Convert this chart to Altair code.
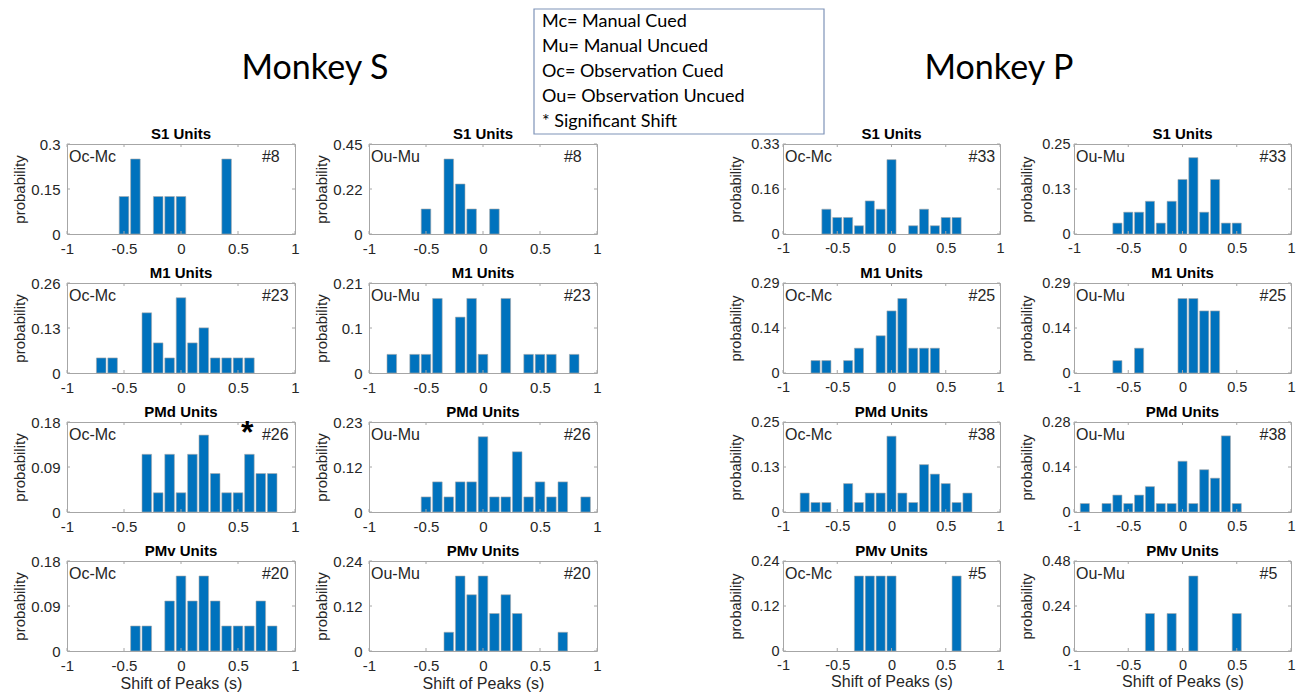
import altair as alt
import pandas as pd

# ---------------- data: peak-shift histograms (bin centre in s, unit count) ----------------
areas = ["S1", "M1", "PMd", "PMv"]
monkeys = ["Monkey S", "Monkey P"]
comparisons = ["Oc-Mc", "Ou-Mu"]
legend_lines = [
    "Mc= Manual Cued",
    "Mu= Manual Uncued",
    "Oc= Observation Cued",
    "Ou= Observation Uncued",
    "* Significant Shift",
]
x_tick_values = [-1, -0.5, 0, 0.5, 1]

# Monkey S
s_s1_oc_shift = [-0.5, -0.4, -0.2, -0.1, 0.0, 0.4]
s_s1_oc_count = [1, 2, 1, 1, 1, 2]
s_s1_ou_shift = [-0.5, -0.3, -0.2, -0.1, 0.1]
s_s1_ou_count = [1, 3, 2, 1, 1]
s_m1_oc_shift = [-0.7, -0.6, -0.3, -0.2, -0.1, 0.0, 0.1, 0.2, 0.3, 0.4, 0.5, 0.6]
s_m1_oc_count = [1, 1, 4, 2, 1, 5, 2, 3, 1, 1, 1, 1]
s_m1_ou_shift = [-0.8, -0.6, -0.5, -0.4, -0.2, -0.1, 0.0, 0.2, 0.4, 0.5, 0.6, 0.8]
s_m1_ou_count = [1, 1, 1, 4, 3, 4, 1, 4, 1, 1, 1, 1]
s_pmd_oc_shift = [-0.3, -0.2, -0.1, 0.0, 0.1, 0.2, 0.3, 0.4, 0.5, 0.6, 0.7, 0.8]
s_pmd_oc_count = [3, 1, 3, 1, 3, 4, 2, 1, 1, 3, 2, 2]
s_pmd_ou_shift = [-0.5, -0.4, -0.3, -0.2, -0.1, 0.0, 0.1, 0.2, 0.3, 0.4, 0.5, 0.6, 0.7, 0.9]
s_pmd_ou_count = [1, 2, 1, 2, 2, 5, 1, 1, 4, 1, 2, 1, 2, 1]
s_pmv_oc_shift = [-0.4, -0.3, -0.1, 0.0, 0.1, 0.2, 0.3, 0.4, 0.5, 0.6, 0.7, 0.8]
s_pmv_oc_count = [1, 1, 2, 3, 2, 3, 2, 1, 1, 1, 2, 1]
s_pmv_ou_shift = [-0.3, -0.2, -0.1, 0.0, 0.1, 0.2, 0.3, 0.7]
s_pmv_ou_count = [1, 4, 3, 4, 2, 3, 2, 1]

# Monkey P
p_s1_oc_shift = [-0.6, -0.5, -0.4, -0.3, -0.2, -0.1, 0.0, 0.2, 0.3, 0.4, 0.5, 0.6]
p_s1_oc_count = [3, 2, 2, 1, 4, 3, 9, 1, 3, 1, 2, 2]
p_s1_ou_shift = [-0.6, -0.5, -0.4, -0.3, -0.2, -0.1, 0.0, 0.1, 0.2, 0.3, 0.4, 0.5]
p_s1_ou_count = [1, 2, 2, 3, 1, 3, 5, 7, 2, 5, 1, 1]
p_m1_oc_shift = [-0.7, -0.6, -0.4, -0.3, -0.1, 0.0, 0.1, 0.2, 0.3, 0.4]
p_m1_oc_count = [1, 1, 1, 2, 3, 5, 6, 2, 2, 2]
p_m1_ou_shift = [-0.6, -0.4, 0.0, 0.1, 0.2, 0.3]
p_m1_ou_count = [1, 2, 6, 6, 5, 5]
p_pmd_oc_shift = [-0.8, -0.7, -0.6, -0.4, -0.3, -0.2, -0.1, 0.0, 0.1, 0.2, 0.3, 0.4, 0.5, 0.6, 0.7]
p_pmd_oc_count = [2, 1, 1, 3, 1, 2, 2, 8, 2, 1, 5, 4, 3, 1, 2]
p_pmd_ou_shift = [-0.9, -0.7, -0.6, -0.5, -0.4, -0.3, -0.2, -0.1, 0.0, 0.1, 0.2, 0.3, 0.4, 0.5]
p_pmd_ou_count = [1, 1, 2, 1, 2, 3, 1, 1, 6, 1, 5, 4, 9, 1]
p_pmv_oc_shift = [-0.3, -0.2, -0.1, 0.0, 0.6]
p_pmv_oc_count = [1, 1, 1, 1, 1]
p_pmv_ou_shift = [-0.3, -0.1, 0.1, 0.5]
p_pmv_ou_count = [1, 1, 2, 1]

# number of units per area (same for both comparisons)
s_units = [8, 23, 26, 20]
p_units = [33, 25, 38, 5]

# y-axis top value and middle tick label, per area, [Oc-Mc, Ou-Mu]
s_ymax = [[0.3, 0.45], [0.26, 0.21], [0.18, 0.23], [0.18, 0.24]]
s_ymid = [["0.15", "0.22"], ["0.13", "0.1"], ["0.09", "0.12"], ["0.09", "0.12"]]
p_ymax = [[0.33, 0.25], [0.29, 0.29], [0.25, 0.28], [0.24, 0.48]]
p_ymid = [["0.16", "0.13"], ["0.14", "0.14"], ["0.13", "0.14"], ["0.12", "0.24"]]

# significant shifts: (monkey, area, comparison)
significant = [("Monkey S", "PMd", "Oc-Mc")]

s_hist = [
    [(s_s1_oc_shift, s_s1_oc_count), (s_s1_ou_shift, s_s1_ou_count)],
    [(s_m1_oc_shift, s_m1_oc_count), (s_m1_ou_shift, s_m1_ou_count)],
    [(s_pmd_oc_shift, s_pmd_oc_count), (s_pmd_ou_shift, s_pmd_ou_count)],
    [(s_pmv_oc_shift, s_pmv_oc_count), (s_pmv_ou_shift, s_pmv_ou_count)],
]
p_hist = [
    [(p_s1_oc_shift, p_s1_oc_count), (p_s1_ou_shift, p_s1_ou_count)],
    [(p_m1_oc_shift, p_m1_oc_count), (p_m1_ou_shift, p_m1_ou_count)],
    [(p_pmd_oc_shift, p_pmd_oc_count), (p_pmd_ou_shift, p_pmd_ou_count)],
    [(p_pmv_oc_shift, p_pmv_oc_count), (p_pmv_ou_shift, p_pmv_ou_count)],
]

# ---------------- styling ----------------
BLUE = "#0072BD"
EDGE = "#a9a9a9"
FRAME = "#a6a6a6"
TXT = "#262626"
FONT = "Liberation Sans"
HEAD_FONT = "Lato"
PANEL_H = 90
S_W, P_W, GAP_W = 228, 217, 38
HALF_BAR = 0.042
TICK = 3

X_LABELS = "datum.value == 0 ? '0' : (datum.value < 0 ? '-' : '') + format(abs(datum.value), '~g')"

one = pd.DataFrame({"k": [0]})


def panel(shift, count, n, ymax, ymid, area, comp, width, bottom, star, fs, extra=()):
    data = pd.DataFrame({"shift": shift, "count": count})
    y_labels = (
        f"datum.value == 0 ? '0' : (datum.value > {ymax * 0.75:.4f} ? '{ymax:g}' : '{ymid}')"
    )
    x_scale = alt.Scale(domain=[-1, 1], nice=False, zero=False)
    y_scale = alt.Scale(domain=[0, ymax], nice=False)
    x_title = "Shift of Peaks (s)" if bottom else None
    x_axis = alt.Axis(
        values=x_tick_values,
        labelExpr=X_LABELS,
        labelFontSize=fs,
        labelPadding=7,
        labelFlush=False,
        titleFontSize=16,
        titleFontWeight="normal",
        titlePadding=2,
    )
    y_axis = alt.Axis(
        values=[0, ymax / 2, ymax],
        labelExpr=y_labels,
        labelFontSize=fs,
        labelPadding=7 if fs >= 15 else 4,
        labelFlush=False,
        minExtent=36,
        maxExtent=36,
        titleFontSize=fs,
        titleFontWeight="normal",
        titlePadding=4,
    )
    bars = (
        alt.Chart(data)
        .transform_calculate(
            probability=f"datum.count / {n}",
            base="0",
            left=f"datum.shift - {HALF_BAR}",
            right=f"datum.shift + {HALF_BAR}",
        )
        .mark_rect(color=BLUE, stroke=EDGE, strokeWidth=0.6)
        .encode(
            x=alt.X("left:Q", scale=x_scale, axis=x_axis, title=x_title),
            x2=alt.X2("right"),
            y=alt.Y("probability:Q", scale=y_scale, axis=y_axis, title="probability"),
            y2=alt.Y2("base"),
        )
    )

    # small inward tick marks on all four sides of the box
    xt = pd.DataFrame({"tick": x_tick_values})
    yt = pd.DataFrame({"tick": [0, ymax / 2, ymax]})
    x_ticks_bottom = alt.Chart(xt).mark_rule(color=FRAME, strokeWidth=1).encode(
        x=alt.X("tick:Q", scale=x_scale, axis=x_axis, title=x_title),
        y=alt.value(PANEL_H), y2=alt.value(PANEL_H - TICK),
    )
    x_ticks_top = alt.Chart(xt).mark_rule(color=FRAME, strokeWidth=1).encode(
        x=alt.X("tick:Q", scale=x_scale, axis=x_axis, title=x_title),
        y=alt.value(0), y2=alt.value(TICK),
    )
    y_ticks_left = alt.Chart(yt).mark_rule(color=FRAME, strokeWidth=1).encode(
        y=alt.Y("tick:Q", scale=y_scale, axis=y_axis, title="probability"),
        x=alt.value(0), x2=alt.value(TICK),
    )
    y_ticks_right = alt.Chart(yt).mark_rule(color=FRAME, strokeWidth=1).encode(
        y=alt.Y("tick:Q", scale=y_scale, axis=y_axis, title="probability"),
        x=alt.value(width), x2=alt.value(width - TICK),
    )

    tag = pd.DataFrame({"comp": [comp], "units": [f"#{n}"], "area": [f"{area} Units"]})
    title_text = (
        alt.Chart(tag)
        .mark_text(align="center", baseline="alphabetic", font=FONT, fontSize=15,
                   fontWeight="bold", color="#000000")
        .encode(x=alt.value(width / 2), y=alt.value(-5), text="area:N")
    )
    comp_text = (
        alt.Chart(tag)
        .mark_text(align="left", baseline="alphabetic", font=FONT, fontSize=16, color=TXT)
        .encode(x=alt.value(2), y=alt.value(18), text="comp:N")
    )
    unit_text = (
        alt.Chart(tag)
        .mark_text(align="left", baseline="alphabetic", font=FONT, fontSize=16, color=TXT)
        .encode(x=alt.value(width * 0.855), y=alt.value(18), text="units:N")
    )
    layers = [bars, x_ticks_bottom, x_ticks_top, y_ticks_left, y_ticks_right,
              title_text, comp_text, unit_text]
    if star:
        layers.append(
            alt.Chart(tag)
            .mark_text(text="*", align="center", baseline="alphabetic", font=FONT,
                       fontSize=32, fontWeight="bold", color="#000000")
            .encode(x=alt.value(width * 0.79), y=alt.value(21))
        )
    layers.extend(extra)
    return alt.layer(*layers).properties(width=width, height=PANEL_H)


def group_title(label, x):
    # monkey name, drawn above the first row of its pair of columns
    return alt.Chart(one).mark_text(
        text=label, font=HEAD_FONT, fontSize=34, align="center",
        baseline="alphabetic", color="#000000",
    ).encode(x=alt.value(x), y=alt.value(-65))


def spacer(with_key):
    layers = [alt.Chart(one).mark_point(opacity=0).encode(x=alt.value(0), y=alt.value(0))]
    if with_key:
        layers.append(
            alt.Chart(one).mark_rect(
                fill="#ffffff", fillOpacity=0, stroke="#7f93b8", strokeWidth=1.2
            ).encode(x=alt.value(-137), x2=alt.value(153), y=alt.value(-135), y2=alt.value(-10))
        )
        layers.append(
            alt.Chart(one).mark_text(
                text=legend_lines, font=HEAD_FONT, fontSize=18, lineHeight=25,
                align="left", baseline="top", color="#000000",
            ).encode(x=alt.value(-129), y=alt.value(-131))
        )
    return alt.layer(*layers).properties(
        width=GAP_W, height=PANEL_H, view=alt.ViewBackground(strokeOpacity=0)
    )


cells = []
for i, area in enumerate(areas):
    bottom = i == len(areas) - 1
    first = i == 0
    s_cells, p_cells = [], []
    for j, comp in enumerate(comparisons):
        head = (j == 0 and first)
        sh, ct = s_hist[i][j]
        s_cells.append(panel(
            sh, ct, s_units[i], s_ymax[i][j], s_ymid[i][j], area, comp, S_W, bottom,
            (monkeys[0], area, comp) in significant, 15,
            extra=[group_title(monkeys[0], 248)] if head else (),
        ))
        sh, ct = p_hist[i][j]
        p_cells.append(panel(
            sh, ct, p_units[i], p_ymax[i][j], p_ymid[i][j], area, comp, P_W, bottom,
            (monkeys[1], area, comp) in significant, 14.5,
            extra=[group_title(monkeys[1], 216)] if head else (),
        ))
    cells.extend(s_cells + [spacer(first)] + p_cells)

chart = (
    alt.concat(*cells, columns=5, spacing={"row": 49, "column": 74},
               bounds="flush", align="each")
    .properties(padding={"left": 11, "top": 8, "right": 5, "bottom": 5})
    .configure_view(stroke=FRAME, strokeWidth=1)
    .configure_axis(
        ticks=False, domain=False, grid=False,
        labelFont=FONT, titleFont=FONT, labelColor=TXT, titleColor=TXT,
    )
)

chart.save("out.html", embed_options={"renderer": "svg", "actions": False})
